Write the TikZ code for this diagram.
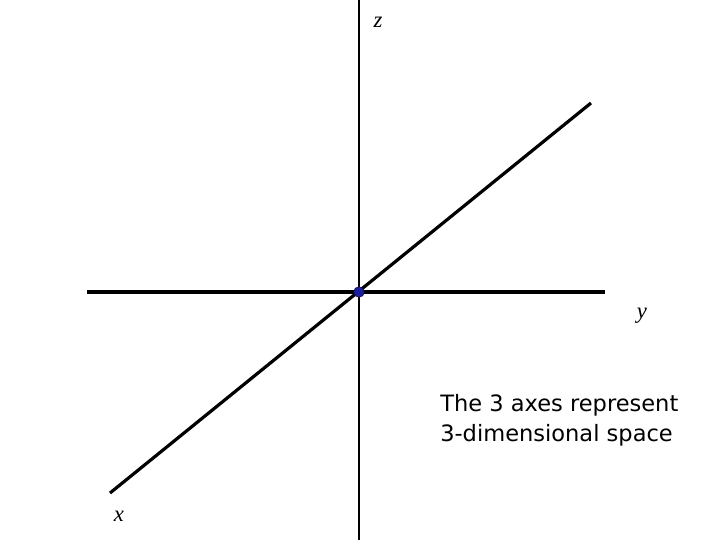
\documentclass[tikz,border=0pt]{standalone}
\usepackage{fontspec}
\setmainfont{Liberation Serif}
\newfontfamily\notefont{DejaVu Sans}
\definecolor{dotblue}{RGB}{28,30,160}
\tikzset{
  axis/.style={line width=2.4pt},
  zaxis/.style={line width=1.6pt},
  axlabel/.style={font=\fontsize{17}{19}\selectfont\itshape, inner sep=0pt},
}
\begin{document}
\begin{tikzpicture}[x=0.75pt, y=-0.75pt]
	\useasboundingbox (0,0) rectangle (720,540);
	% axis ends
	\coordinate (zt) at (359,0);
	\coordinate (zb) at (359,540);
	\coordinate (yl) at (87,292);
	\coordinate (yr) at (605,292);
	\coordinate (xb) at (110,493);
	\coordinate (xt) at (591,103);
	\draw[zaxis] (zt) -- (zb);
	\draw[axis] (yl) -- (yr);
	\draw[axis] (xb) -- (xt);
	\node[circle, fill=dotblue, draw=black!70!dotblue, line width=0.4pt,
	      minimum size=8pt, inner sep=0pt] (o) at (359,292) {};
	% labels
	\node[axlabel] (zl) at (378,22) {z};
	\node[axlabel] (yl2) at (642,316) {y};
	\node[axlabel] (xl) at (119,516) {x};
	\node[anchor=north west, inner sep=0pt, align=left,
	      font=\notefont\fontsize{16.9}{22.5}\selectfont] (note) at (440,394)
	      {The 3 axes represent\\3-dimensional space};
\end{tikzpicture}
\end{document}
